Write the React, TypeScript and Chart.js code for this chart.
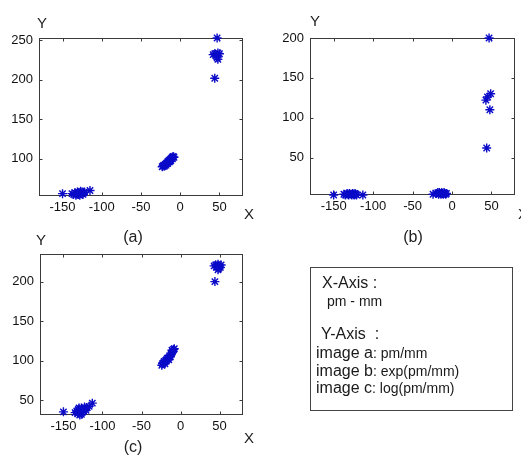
import React, { useEffect, useRef } from "react";
import { Chart, registerables } from "chart.js";
Chart.register(...registerables);

// ---- data ----
const xTicks = [-150, -100, -50, 0, 50];
const xMin = -180;
const xMax = 80;

const aYTicks = [100, 150, 200, 250];
const aYMin = 53;
const aYMax = 253;
const aX = [47, 42, 44, 46, 48, 50, 47, 48, 44,
  -23, -22, -21, -20, -19, -18, -18, -17, -16, -16, -15, -14, -14, -13, -13, -12, -12, -11, -10, -10, -9, -8,
  -150, -138, -136, -134, -133, -132, -131, -130, -129, -128, -127, -126, -125, -124, -123, -122, -115];
const aY = [253, 232, 233, 231, 234, 233, 228, 226, 202,
  90, 91, 92, 91, 93, 92, 94, 95, 94, 96, 97, 96, 98, 97, 99, 98, 100, 101, 100, 102, 103, 102,
  56, 56, 55, 57, 54, 56, 58, 55, 57, 54, 59, 56, 58, 55, 57, 58, 60];

const bYTicks = [50, 100, 150, 200];
const bYMin = 3;
const bYMax = 200;
const bX = [47, 49, 45, 43, 48, 44,
  -24, -20, -18, -17, -16, -15, -14, -13, -12, -11, -10, -9, -8, -7,
  -150, -137, -135, -133, -132, -131, -130, -128, -127, -126, -125, -124, -123, -122, -121, -113];
const bY = [200, 130, 126, 122, 110, 62,
  4, 5, 6, 4, 6, 5, 4, 6, 5, 4, 6, 5, 4, 5,
  3, 4, 3, 5, 4, 3, 5, 4, 3, 5, 4, 3, 5, 4, 3, 3];

const cYTicks = [50, 100, 150, 200];
const cYMin = 31;
const cYMax = 235;
const cX = [43, 45, 46, 47, 48, 49, 50, 51, 52, 48, 44,
  -24, -23, -22, -21, -20, -20, -19, -18, -17, -16, -15, -15, -14, -13, -12, -11, -11, -10, -9, -8,
  -150, -135, -133, -132, -131, -130, -130, -129, -128, -127, -127, -126, -125, -124, -123, -122, -121, -120, -117, -113];
const cY = [220, 221, 218, 220, 222, 217, 220, 218, 221, 215, 200,
  94, 96, 97, 99, 96, 98, 100, 101, 103, 102, 101, 104, 106, 105, 108, 110, 113, 112, 114, 115,
  35, 34, 36, 33, 38, 35, 40, 31, 37, 32, 40, 34, 38, 36, 41, 39, 37, 40, 42, 46];

const FONT = "Arial, 'Liberation Sans', Helvetica, sans-serif";
const STAR = "rgb(10,10,200)";

const boxPlugin = {
  id: "mbox",
  beforeDatasetsDraw(chart: any) {
    const { ctx, chartArea: a, scales } = chart;
    const l = Math.round(a.left) + 0.5;
    const r = Math.round(a.right) - 0.5;
    const t = Math.round(a.top) + 0.5;
    const b = Math.round(a.bottom) - 0.5;
    ctx.save();
    ctx.strokeStyle = "#3a3a3a";
    ctx.lineWidth = 1;
    ctx.strokeRect(l, t, r - l, b - t);
    const tl = 3;
    ctx.beginPath();
    scales.x.ticks.forEach((tk: any) => {
      const px = Math.round(scales.x.getPixelForValue(tk.value)) + 0.5;
      ctx.moveTo(px, b); ctx.lineTo(px, b - tl);
      ctx.moveTo(px, t); ctx.lineTo(px, t + tl);
    });
    scales.y.ticks.forEach((tk: any) => {
      const py = Math.round(scales.y.getPixelForValue(tk.value)) + 0.5;
      ctx.moveTo(l, py); ctx.lineTo(l + tl, py);
      ctx.moveTo(r, py); ctx.lineTo(r - tl, py);
    });
    ctx.stroke();
    ctx.restore();
  },
};

type PlotProps = {
  xs: number[]; ys: number[]; yTicks: number[]; yMin: number; yMax: number;
  left: number; top: number; width: number; height: number;
  yWidth: number; xHeight: number; padTop: number; padRight: number;
};

function Plot(p: PlotProps) {
  const ref = useRef<HTMLCanvasElement>(null);
  useEffect(() => {
    const pts = p.xs.map((x, i) => ({ x, y: p.ys[i] }));
    const chart = new Chart(ref.current!, {
      type: "scatter",
      data: {
        datasets: [{
          data: pts,
          pointStyle: "star",
          pointRadius: 4.5,
          pointBorderWidth: 1.4,
          borderColor: STAR,
          backgroundColor: STAR,
          clip: false,
        } as any],
      },
      options: {
        animation: false,
        responsive: false,
        maintainAspectRatio: false,
        events: [],
        layout: { padding: { top: p.padTop, right: p.padRight, left: 0, bottom: 0 } },
        plugins: { legend: { display: false }, tooltip: { enabled: false }, title: { display: false } },
        scales: {
          x: {
            type: "linear", min: xMin, max: xMax,
            grid: { display: false, drawTicks: false },
            border: { display: false },
            afterBuildTicks: (s: any) => { s.ticks = xTicks.map((v) => ({ value: v })); },
            afterFit: (s: any) => { s.height = p.xHeight; },
            ticks: { color: "#111", font: { family: FONT, size: 13 }, padding: 4, maxRotation: 0, autoSkip: false },
          },
          y: {
            type: "linear", min: p.yMin, max: p.yMax,
            grid: { display: false, drawTicks: false },
            border: { display: false },
            afterBuildTicks: (s: any) => { s.ticks = p.yTicks.map((v) => ({ value: v })); },
            afterFit: (s: any) => { s.width = p.yWidth; },
            ticks: { color: "#111", font: { family: FONT, size: 13 }, padding: 6, autoSkip: false },
          },
        },
      },
      plugins: [boxPlugin],
    });
    return () => chart.destroy();
  }, []);
  return (
    <canvas
      ref={ref}
      width={p.width}
      height={p.height}
      style={{ position: "absolute", left: p.left, top: p.top, width: p.width, height: p.height }}
    />
  );
}

function Label(props: { x: number; y: number; size: number; children: React.ReactNode }) {
  return (
    <div
      style={{
        position: "absolute", left: props.x, top: props.y, transform: "translate(-50%,-50%)",
        fontFamily: FONT, fontSize: props.size, lineHeight: 1, color: "#222", whiteSpace: "pre",
      }}
    >
      {props.children}
    </div>
  );
}

function Txt(props: { x: number; y: number; size: number; children: React.ReactNode }) {
  return (
    <div
      style={{
        position: "absolute", left: props.x, top: props.y, transform: "translateY(-50%)",
        fontFamily: FONT, fontSize: props.size, lineHeight: 1, color: "#1a1a1a", whiteSpace: "pre",
      }}
    >
      {props.children}
    </div>
  );
}

export default function App() {
  return (
    <div style={{ position: "absolute", left: 0, top: 0, width: 521, height: 457, background: "#fff", overflow: "hidden" }}>
      <Plot xs={aX} ys={aY} yTicks={aYTicks} yMin={aYMin} yMax={aYMax}
        left={0} top={0} width={260} height={230} yWidth={39} xHeight={34} padTop={38} padRight={17} />
      <Plot xs={bX} ys={bY} yTicks={bYTicks} yMin={bYMin} yMax={bYMax}
        left={260} top={0} width={261} height={230} yWidth={50} xHeight={35} padTop={38} padRight={5} />
      <Plot xs={cX} ys={cY} yTicks={cYTicks} yMin={cYMin} yMax={cYMax}
        left={0} top={230} width={260} height={227} yWidth={40} xHeight={42} padTop={24} padRight={17} />

      <Label x={42} y={22} size={15}>Y</Label>
      <Label x={249} y={213} size={15}>X</Label>
      <Label x={133} y={237} size={16}>(a)</Label>

      <Label x={315} y={20} size={15}>Y</Label>
      <Label x={523} y={213} size={15}>X</Label>
      <Label x={413} y={237} size={16}>(b)</Label>

      <Label x={41} y={239} size={15}>Y</Label>
      <Label x={249} y={437} size={15}>X</Label>
      <Label x={133} y={447} size={16}>(c)</Label>

      <div style={{ position: "absolute", left: 310, top: 267, width: 201, height: 142, border: "1px solid #444", boxSizing: "content-box" }} />
      <Txt x={322} y={283} size={16}>{"X-Axis :"}</Txt>
      <Txt x={327} y={301} size={14}>{"pm - mm"}</Txt>
      <Txt x={321} y={334} size={16}>{"Y-Axis  :"}</Txt>
      <Txt x={316} y={353} size={16}>image a<span style={{ fontSize: 14 }}>: pm/mm</span></Txt>
      <Txt x={316} y={371} size={16}>image b<span style={{ fontSize: 14 }}>: exp(pm/mm)</span></Txt>
      <Txt x={316} y={388} size={16}>image c<span style={{ fontSize: 14 }}>: log(pm/mm)</span></Txt>
    </div>
  );
}
